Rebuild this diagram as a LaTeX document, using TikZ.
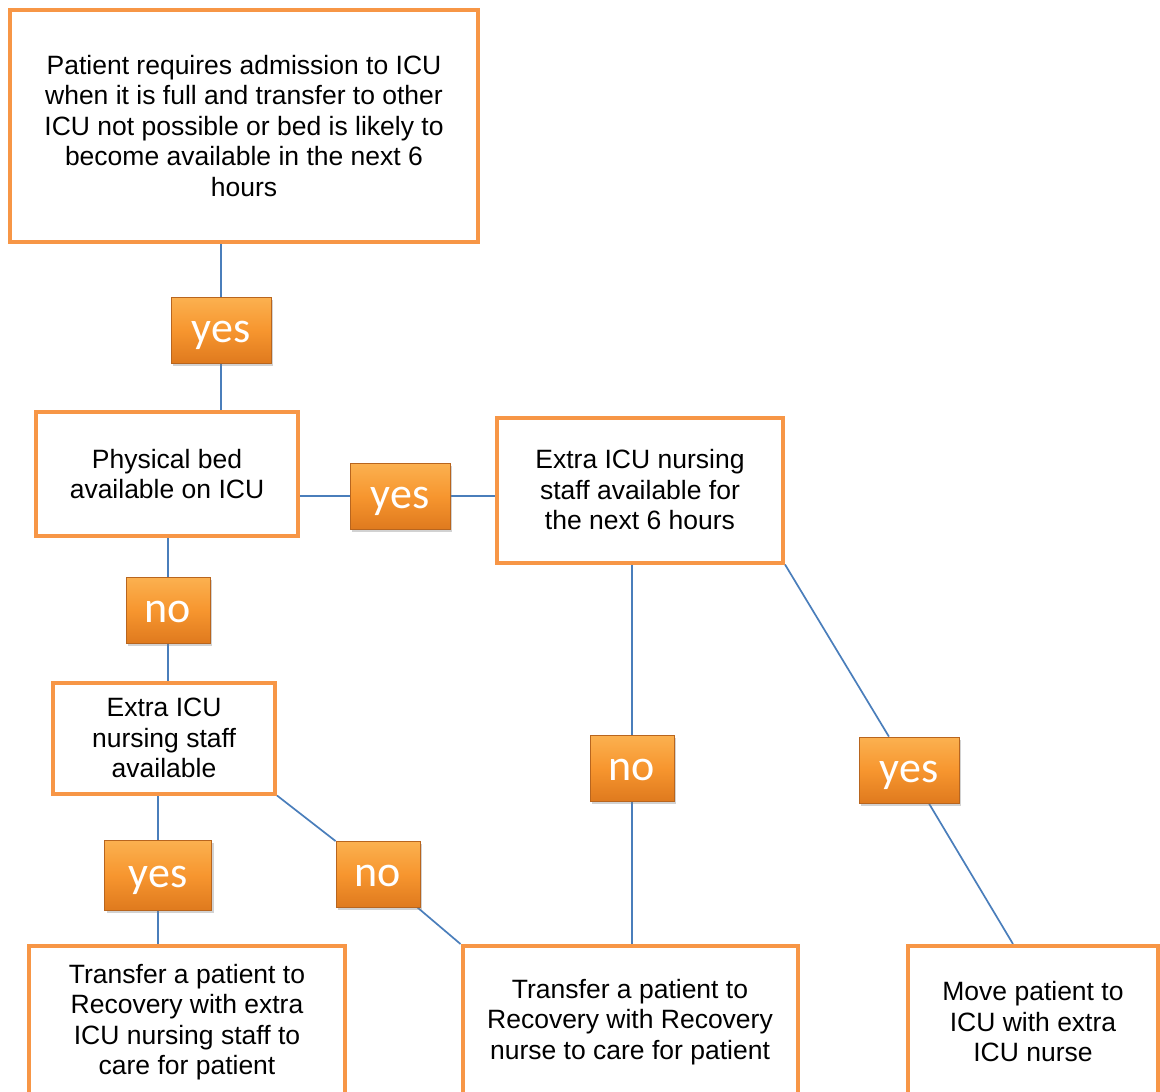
\documentclass[tikz,border=0pt]{standalone}
\usepackage{fontspec}
\setmainfont{Liberation Sans}
\newfontfamily\lblfont{Carlito}
\usetikzlibrary{shadows,backgrounds}
\definecolor{boxorange}{HTML}{F79646}
\definecolor{connblue}{HTML}{4A7EBB}
\definecolor{lbltop}{HTML}{FBB150}
\definecolor{lblmid}{HTML}{F7962F}
\definecolor{lblbot}{HTML}{DF7A1E}
\definecolor{lbledge}{HTML}{B8651E}
\begin{document}
\begin{tikzpicture}[x=1pt,y=-1pt,
  box/.style={draw=boxorange, line width=4pt, fill=white, align=center,
    font=\fontsize{26.5}{30.5}\selectfont, inner sep=0pt},
  lbl/.style={draw=lbledge, line width=0.8pt, top color=lbltop, bottom color=lblbot,
    middle color=lblmid, text=white, minimum height=66pt,
    font=\lblfont\fontsize{44}{44}\selectfont, inner sep=0pt,
    text height=24pt, text depth=0pt,
    drop shadow={shadow xshift=2pt, shadow yshift=-3pt, opacity=0.35}},
  yeslbl/.style={lbl, minimum width=100pt},
  nolbl/.style={lbl, minimum width=84pt},
  conn/.style={draw=connblue, line width=1.7pt}]
\useasboundingbox (0,0) rectangle (1160,1092);

\node[box, minimum width=468pt, minimum height=232pt] (top) at (244,126)
  {Patient requires admission to ICU\\when it is full and transfer to other\\ICU not possible or bed is likely to\\become available in the next 6\\hours};
\node[box, minimum width=262pt, minimum height=124pt] (bed) at (167,474)
  {Physical bed\\available on ICU};
\node[box, minimum width=286pt, minimum height=145pt] (right) at (640,490)
  {Extra ICU nursing\\staff available for\\the next 6 hours};
\node[box, minimum width=222pt, minimum height=111pt] (avail) at (164,738)
  {Extra ICU\\nursing staff\\available};
\node[box, minimum width=316pt, minimum height=152pt] (bl) at (187,1022)
  {Transfer a patient to\\Recovery with extra\\ICU nursing staff to\\care for patient};
\node[box, minimum width=335pt, minimum height=152pt] (bm) at (630,1022)
  {Transfer a patient to\\Recovery with Recovery\\nurse to care for patient};
\node[box, minimum width=250pt, minimum height=152pt] (br) at (1033,1022)
  {Move patient to\\ICU with extra\\ICU nurse};

\node[yeslbl] (l1) at (221,330) {yes};
\node[yeslbl] (l2) at (400,496) {yes};
\node[nolbl] (n1) at (168,610) {no};
\node[nolbl] (n2) at (632,768) {no};
\node[yeslbl] (l3) at (909,770) {yes};
\node[yeslbl, minimum width=107pt, minimum height=70pt] (l4) at (158,875) {yes};
\node[nolbl] (n3) at (378,874) {no};

\begin{scope}[on background layer]
  \fill[white] (0,0) rectangle (1160,1092);
  \draw[conn] (top.south -| l1) -- (bed.north -| l1);
  \draw[conn] (bed.east |- l2) -- (right.west |- l2);
  \draw[conn] (bed.south -| n1) -- (avail.north -| n1);
  \draw[conn] (right.south -| n2) -- (bm.north -| n2);
  \draw[conn] (right.south east) -- (l3) -- ([xshift=107pt]br.north west);
  \draw[conn] (avail.south -| l4) -- (bl.north -| l4);
  \draw[conn] (avail.south east) -- (n3) -- (bm.north west);
\end{scope}
\end{tikzpicture}
\end{document}
